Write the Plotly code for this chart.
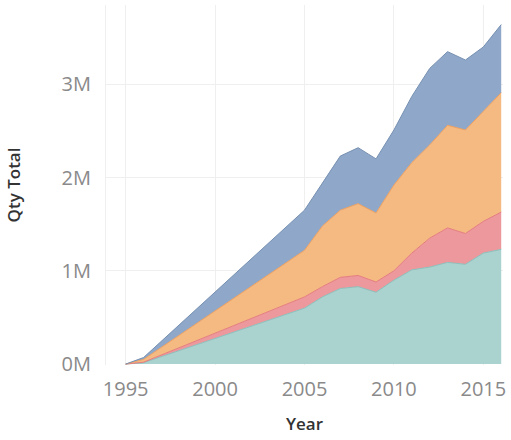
import plotly.graph_objects as go

# Yearly quantities per product group (millions of units)
years = [1995, 1996, 2005, 2006, 2007, 2008, 2009, 2010, 2011, 2012, 2013, 2014, 2015, 2016]
teal_qty = [0, 0.015, 0.60, 0.72, 0.81, 0.83, 0.77, 0.90, 1.01, 1.04, 1.09, 1.07, 1.19, 1.23]
red_qty = [0, 0.005, 0.12, 0.11, 0.12, 0.12, 0.11, 0.10, 0.18, 0.31, 0.37, 0.33, 0.34, 0.40]
orange_qty = [0, 0.03, 0.50, 0.65, 0.72, 0.77, 0.74, 0.92, 0.97, 1.00, 1.10, 1.11, 1.18, 1.28]
blue_qty = [0, 0.02, 0.43, 0.46, 0.58, 0.60, 0.58, 0.59, 0.71, 0.82, 0.79, 0.75, 0.69, 0.73]

x_ticks = [1995, 2000, 2005, 2010, 2015]
y_ticks = [0, 1e6, 2e6, 3e6]
y_tick_labels = ["0M", "1M", "2M", "3M"]

series = [
    ("Teal", teal_qty, "rgb(170,210,206)", "rgb(140,192,188)"),
    ("Red", red_qty, "rgb(236,152,156)", "rgb(228,124,128)"),
    ("Orange", orange_qty, "rgb(245,185,130)", "rgb(238,160,95)"),
    ("Blue", blue_qty, "rgb(143,168,201)", "rgb(118,144,178)"),
]

fig = go.Figure()
for name, vals, fill, line in series:
    fig.add_trace(go.Scatter(
        x=years,
        y=[v * 1e6 for v in vals],
        name=name,
        mode="lines",
        stackgroup="qty",
        fillcolor=fill,
        line=dict(color=line, width=1),
        hoverinfo="skip",
    ))

tick_font = dict(family="Open Sans, Noto Sans, sans-serif", size=20, color="#8a8a8a")
title_font = dict(family="Open Sans, Noto Sans, sans-serif", size=17, color="#333333", weight=600)

fig.update_layout(
    width=511,
    height=440,
    margin=dict(l=106, r=6, t=5, b=75),
    paper_bgcolor="white",
    plot_bgcolor="white",
    showlegend=False,
    xaxis=dict(
        range=[1993.9, 2016.1],
        tickvals=x_ticks,
        ticktext=[str(t) for t in x_ticks],
        tickfont=tick_font,
        showgrid=True,
        gridcolor="#efefef",
        gridwidth=1,
        zeroline=False,
        showline=False,
        ticks="",
        ticklen=0,
        ticklabelstandoff=10,
        title=dict(text="Year", font=title_font, standoff=17),
    ),
    yaxis=dict(
        range=[-0.01e6, 3.85e6],
        tickvals=y_ticks,
        ticktext=y_tick_labels,
        tickfont=tick_font,
        showgrid=True,
        gridcolor="#efefef",
        gridwidth=1,
        zeroline=False,
        showline=True,
        linecolor="#efefef",
        linewidth=1,
        ticks="",
        ticklabelstandoff=10,
        title=dict(text="Qty Total", font=title_font, standoff=36),
    ),
)

fig.write_html("out.html")
